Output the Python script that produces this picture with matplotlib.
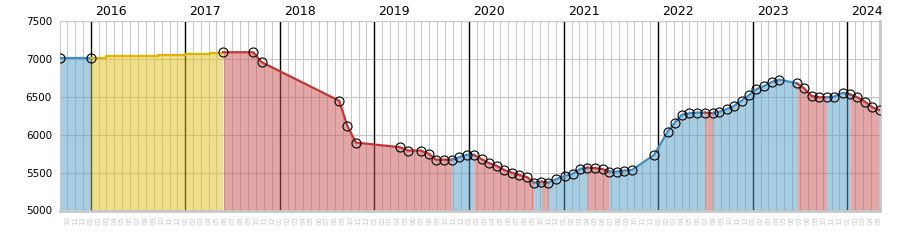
import itertools
import matplotlib
matplotlib.use('Agg')
import matplotlib.pyplot as plt
import matplotlib.dates as mdates
import pandas as pd

# flat start (blue)
start_dates = ['2015-09-06', '2016-01-01']
start_values = [7010, 7010]

# quarterly steps without markers (yellow)
step_dates = ['2016-01-01', '2016-03-02', '2016-06-07', '2016-09-18',
              '2017-01-01', '2017-04-06', '2017-05-27']
step_values = [7013, 7030, 7042, 7050, 7062, 7075, 7085]

# main series, one colour letter per interval to the next point
dates = ['2017-05-27', '2017-09-20', '2017-10-22', '2018-08-18', '2018-09-18',
         '2018-10-21', '2019-04-09', '2019-05-11', '2019-06-28', '2019-07-31',
         '2019-08-26', '2019-09-26', '2019-10-26', '2019-11-24', '2019-12-23',
         '2020-01-20', '2020-02-19', '2020-03-19', '2020-04-17', '2020-05-15',
         '2020-06-14', '2020-07-13', '2020-08-13', '2020-09-08', '2020-10-07',
         '2020-11-02', '2020-12-04', '2021-01-05', '2021-02-04', '2021-03-04',
         '2021-04-01', '2021-05-01', '2021-05-31', '2021-06-25', '2021-07-24',
         '2021-08-22', '2021-09-22', '2021-12-16', '2022-02-06', '2022-03-06',
         '2022-04-01', '2022-04-30', '2022-05-31', '2022-06-30', '2022-07-30',
         '2022-08-24', '2022-09-22', '2022-10-20', '2022-11-19', '2022-12-18',
         '2023-01-15', '2023-02-14', '2023-03-18', '2023-04-13', '2023-06-21',
         '2023-07-18', '2023-08-16', '2023-09-14', '2023-10-13', '2023-11-11',
         '2023-12-14', '2024-01-11', '2024-02-08', '2024-03-09', '2024-04-07',
         '2024-05-07']
values = [7085, 7085, 6955, 6445, 6118,
          5895, 5834, 5790, 5790, 5746,
          5670, 5670, 5670, 5702, 5733,
          5733, 5676, 5623, 5588, 5535,
          5500, 5469, 5439, 5368, 5381,
          5368, 5413, 5456, 5483, 5544,
          5565, 5560, 5545, 5513, 5513,
          5526, 5535, 5733, 6039, 6158,
          6259, 6281, 6290, 6290, 6282,
          6300, 6334, 6377, 6447, 6522,
          6597, 6641, 6697, 6725, 6676,
          6610, 6509, 6492, 6492, 6500,
          6552, 6531, 6492, 6434, 6360,
          6320]
seg_colors = ('RRRRRRRRRRRR' + 'BBB' + 'RRRRRRRR' + 'B' + 'R' + 'BBBBB'
              + 'RRR' + 'BBBBBBBBBB' + 'R' + 'BBBBBBBBBB' + 'RRRR' + 'BBB' + 'RRRRR')

years = [2016, 2017, 2018, 2019, 2020, 2021, 2022, 2023, 2024]

line_col = {'B': '#3d8fc7', 'Y': '#e2b600', 'R': '#c83434'}
fill_col = {'B': '#519dc9', 'Y': '#e1c119', 'R': '#c95151'}

start_x = pd.to_datetime(start_dates)
step_x = pd.to_datetime(step_dates)
x = pd.to_datetime(dates)

fig = plt.figure(figsize=(9, 2.5), dpi=100)
ax = fig.add_axes([0.067, 0.158, 0.911, 0.759])

# grid under everything
ax.set_axisbelow(True)
ax.grid(True, color='#c8c8c8', lw=0.75)
for y in years:
    ax.axvline(pd.Timestamp(f'{y}-01-01'), color='black', lw=1.0, zorder=1.5)

# blue start
ax.fill_between(start_x, start_values, 5000, color=fill_col['B'], alpha=0.5, lw=0, zorder=2)
ax.plot(start_x, start_values, color=line_col['B'], lw=1.6, zorder=3)

# yellow steps
ax.fill_between(step_x, step_values, 5000, step='post', color=fill_col['Y'], alpha=0.5, lw=0, zorder=2)
ax.step(step_x, step_values, where='post', color=line_col['Y'], lw=1.6, zorder=3)

# main series in colour runs
idx = range(len(seg_colors))
for c, grp in itertools.groupby(idx, key=lambda i: seg_colors[i]):
    grp = list(grp)
    i0, i1 = grp[0], grp[-1] + 1
    ax.fill_between(x[i0:i1 + 1], values[i0:i1 + 1], 5000, color=fill_col[c],
                    alpha=0.5, lw=0, zorder=2)
    ax.plot(x[i0:i1 + 1], values[i0:i1 + 1], color=line_col[c], lw=1.6, zorder=3)

# markers
ax.plot(start_x, start_values, 'o', mfc='none', mec='black', ms=6.5, mew=0.8, zorder=5)
ax.plot(x, values, 'o', mfc='none', mec='black', ms=6.5, mew=0.8, zorder=5)

ax.set_xlim(start_x[0], x[-1])
ax.set_ylim(5000, 7500)
ax.set_yticks([5000, 5500, 6000, 6500, 7000, 7500])

ax.xaxis.set_major_locator(mdates.MonthLocator())
ax.xaxis.set_major_formatter(mdates.DateFormatter('%m'))
ax.tick_params(axis='x', length=0, labelsize=5, labelcolor='#c8c8c8',
               labelrotation=90, pad=4)
ax.tick_params(axis='y', length=0, labelsize=7.5, pad=6)

for y in years:
    ax.annotate(str(y), xy=(pd.Timestamp(f'{y}-01-01'), 1.0),
                xycoords=('data', 'axes fraction'), xytext=(3, 2),
                textcoords='offset points', ha='left', va='bottom', fontsize=9)

for s in ['left', 'top']:
    ax.spines[s].set_color('#c8c8c8')
    ax.spines[s].set_linewidth(0.75)
for s in ['bottom', 'right']:
    ax.spines[s].set_color('#c8c8c8')
    ax.spines[s].set_linewidth(2.0)

fig.savefig('out.png', dpi=100)
